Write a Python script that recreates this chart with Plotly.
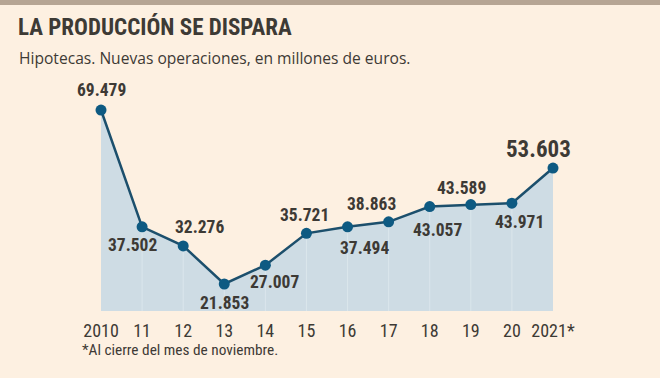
import plotly.graph_objects as go

years = ["2010", "11", "12", "13", "14", "15", "16", "17", "18", "19", "20", "2021*"]
values = [69479, 37502, 32276, 21853, 27007, 35721, 37494, 38863, 43057, 43589, 43971, 53603]
labels = ["69.479", "37.502", "32.276", "21.853", "27.007", "35.721", "37.494",
          "38.863", "43.057", "43.589", "43.971", "53.603"]
# label offsets (px) relative to each point
label_dx = [0, -10, 16, 0, 9, -2, 17, -17, 8, -9, 8, -14]
label_dy = [20, -18, 19, -19, -17, 18, -21, 18, -23, 17, -19, 19]

xs = list(range(len(years)))
BG = "#fdf0e1"
INK = "#3d3a35"
COND = "Liberation Sans Narrow, Roboto Condensed, DejaVu Sans Condensed, sans-serif"

fig = go.Figure()
fig.add_trace(go.Scatter(x=xs, y=values, mode="lines", fill="tozeroy",
                         fillcolor="#cedce4", line=dict(width=0), hoverinfo="skip"))
# vertical guide lines inside area
gx, gy = [], []
for x, v in zip(xs[1:-1], values[1:-1]):
    gx += [x, x, None]
    gy += [0, v, None]
fig.add_trace(go.Scatter(x=gx, y=gy, mode="lines", line=dict(color="#dbe6ec", width=1),
                         hoverinfo="skip"))
fig.add_trace(go.Scatter(x=xs, y=values, mode="lines+markers",
                         line=dict(color="#1c4f6c", width=2.5),
                         marker=dict(color="#0e5a82", size=11)))

for i, (x, v, t) in enumerate(zip(xs, values, labels)):
    big = i == len(xs) - 1
    fig.add_annotation(x=x, y=v, text="<b>%s</b>" % t, showarrow=False,
                       xshift=label_dx[i], yshift=label_dy[i],
                       font=dict(family=COND, size=23 if big else 17.5, color=INK))

fig.update_layout(
    width=660, height=378, paper_bgcolor=BG, plot_bgcolor=BG,
    margin=dict(l=60, r=60, t=80, b=67), showlegend=False,
    xaxis=dict(range=[-0.998, 12.144], tickvals=xs, ticktext=years, showgrid=False,
               zeroline=False, showline=False, ticks="", ticklabelstandoff=7,
               tickfont=dict(family=COND, size=18, color=INK)),
    yaxis=dict(range=[14460, 77700], visible=False, showgrid=False),
    shapes=[dict(type="rect", xref="paper", yref="paper", x0=-1, x1=2, y0=1 + 75 / 231, y1=2,
                 fillcolor="#b6a594", line=dict(width=0))],
)
fig.add_annotation(xref="paper", yref="paper", x=-44 / 540, y=1 + 53 / 231, xanchor="left",
                   yanchor="middle", showarrow=False,
                   text="<b>LA PRODUCCIÓN SE DISPARA</b>",
                   font=dict(family=COND, size=23, color=INK))
fig.add_annotation(xref="paper", yref="paper", x=-43 / 540, y=1 + 22 / 231, xanchor="left",
                   yanchor="middle", showarrow=False,
                   text="Hipotecas. Nuevas operaciones, en millones de euros.",
                   font=dict(family="Open Sans, sans-serif", size=15.6, color=INK))
fig.add_annotation(xref="paper", yref="paper", x=20 / 540, y=-39 / 231, xanchor="left",
                   yanchor="middle", showarrow=False,
                   text="*Al cierre del mes de noviembre.",
                   font=dict(family=COND, size=15.3, color=INK))

fig.write_html("out.html", config={"displayModeBar": False},
               post_script="document.body.style.margin='0';document.body.style.background='%s';" % BG)
